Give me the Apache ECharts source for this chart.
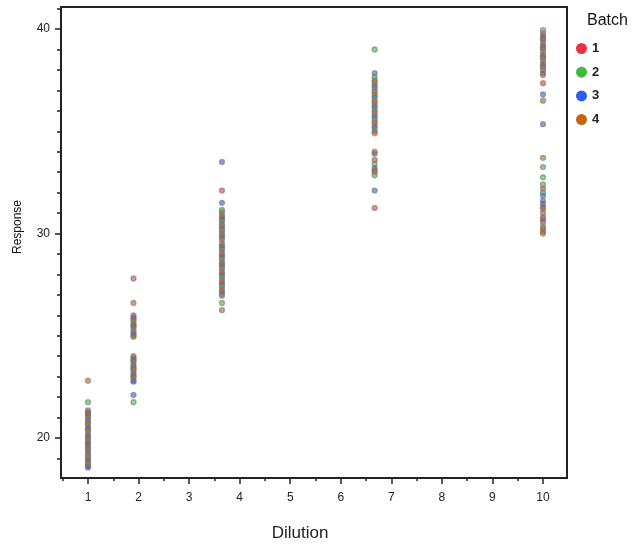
<!DOCTYPE html>
<html>
<head>
<meta charset="utf-8">
<script src="https://cdn.jsdelivr.net/npm/echarts@6/dist/echarts.min.js"></script>
<style>
  html, body { margin: 0; padding: 0; background: #fff; }
  #chart { width: 642px; height: 548px; }
</style>
</head>
<body>
<div id="chart"></div>
<script>
// Dilution levels at which responses were measured (x positions of the columns)
const dilutionLevels = [1, 1.9, 3.65, 6.67, 10];

// Response values per batch, one list per dilution level
const batch1 = [
  [18.6, 19.0, 19.45, 19.8, 20.2, 20.65, 21.05, 21.35],
  [25.2, 25.6, 26.0, 22.8, 23.2, 23.6, 24.0, 27.8],
  [26.95, 27.4, 27.85, 28.3, 28.75, 29.2, 29.7, 30.15, 30.6, 31.05, 32.1],
  [35.0, 35.5, 36.0, 36.5, 37.0, 37.5, 33.0, 33.6, 31.25],
  [38.0, 38.45, 38.9, 39.35, 39.8, 30.1, 30.55, 31.0, 31.45, 32.2, 37.35]
];
const batch2 = [
  [18.7, 19.1, 19.5, 19.9, 20.35, 20.7, 21.1, 21.75],
  [24.95, 25.35, 25.75, 22.95, 23.35, 23.75, 21.75],
  [27.05, 27.5, 27.95, 28.4, 28.85, 29.3, 29.8, 30.25, 30.7, 31.15, 26.6],
  [35.15, 35.65, 36.15, 36.65, 37.15, 37.65, 32.85, 33.4, 39.0],
  [38.15, 38.6, 39.05, 39.5, 39.95, 32.0, 32.4, 32.75, 30.35, 33.25]
];
const batch3 = [
  [18.55, 18.9, 19.3, 19.7, 20.1, 20.5, 20.9, 21.25],
  [25.1, 25.5, 25.9, 22.75, 23.1, 23.5, 23.9, 22.1],
  [27.15, 27.6, 28.05, 28.5, 28.95, 29.4, 29.9, 30.35, 30.8, 31.5, 33.5],
  [35.25, 35.75, 36.25, 36.75, 37.25, 37.85, 33.2, 33.9, 32.1],
  [37.85, 38.3, 38.75, 39.2, 39.65, 31.3, 31.6, 31.85, 30.7, 36.8, 35.35]
];
const batch4 = [
  [18.8, 19.2, 19.6, 20.0, 20.4, 20.8, 21.2, 22.8],
  [25.0, 25.45, 25.8, 23.0, 23.4, 23.8, 26.6],
  [27.25, 27.7, 28.15, 28.6, 29.05, 29.5, 30.0, 30.45, 30.9, 26.25],
  [34.9, 35.4, 35.9, 36.4, 36.9, 37.4, 33.1, 34.0],
  [37.75, 38.2, 38.65, 39.1, 39.55, 30.0, 30.25, 30.8, 31.2, 36.5, 33.7]
];

const batchNames = ['1', '2', '3', '4'];
const batchColors = ['#e8353f', '#3dbb3d', '#2b5ff0', '#c4620e'];

// Axis ticks and labels
const xMajorTicks = [1, 2, 3, 4, 5, 6, 7, 8, 9, 10];
const xMinorTicks = [0.5, 1.5, 2.5, 3.5, 4.5, 5.5, 6.5, 7.5, 8.5, 9.5, 10.5];
const yMajorTicks = [20, 30, 40];
const yMinorTicks = [19, 21, 22, 23, 24, 25, 26, 27, 28, 29, 31, 32, 33, 34, 35, 36, 37, 38, 39, 41];

function toPoints(columns) {
  const pts = [];
  columns.forEach((ys, i) => ys.forEach(y => pts.push([dilutionLevels[i], y])));
  return pts;
}

const batches = [batch1, batch2, batch3, batch4];
const FONT = 'Liberation Sans, Arial, sans-serif';
const X_MIN = 0.466, X_MAX = 10.475, Y_MIN = 18.04, Y_MAX = 41.08;

const chart = echarts.init(document.getElementById('chart'), null, { renderer: 'canvas' });

const axisLineStyle = { color: '#222', width: 2 };

chart.setOption({
  backgroundColor: '#fff',
  animation: false,
  title: {
    text: 'Batch',
    left: 582, top: 8,
    textStyle: { fontFamily: FONT, fontSize: 16, fontWeight: 'normal', color: '#111' }
  },
  legend: {
    data: batchNames,
    orient: 'vertical',
    left: 571, top: 37,
    itemWidth: 11, itemHeight: 11, itemGap: 10.7,
    icon: 'circle',
    itemStyle: { borderWidth: 0, opacity: 1 },
    textStyle: { fontFamily: FONT, fontSize: 13, fontWeight: 'bold', color: '#222' },
    selectedMode: false
  },
  grid: {
    left: 61, top: 7, right: 75, bottom: 70,
    show: true, borderColor: '#222', borderWidth: 2, backgroundColor: 'transparent'
  },
  xAxis: [
    {
      type: 'value', min: X_MIN, max: X_MAX, position: 'bottom',
      axisLine: { show: true, lineStyle: axisLineStyle },
      axisTick: { show: true, customValues: xMajorTicks, length: 6, lineStyle: { color: '#222', width: 1.5 } },
      axisLabel: { customValues: xMajorTicks, margin: 14, fontFamily: FONT, fontSize: 12, color: '#222' },
      splitLine: { show: false }
    },
    {
      type: 'value', min: X_MIN, max: X_MAX, position: 'bottom',
      axisLine: { show: false },
      axisTick: { show: true, customValues: xMinorTicks, length: 3, lineStyle: { color: '#222', width: 1.5 } },
      axisLabel: { show: false },
      splitLine: { show: false }
    }
  ],
  yAxis: [
    {
      type: 'value', min: Y_MIN, max: Y_MAX, position: 'left',
      axisLine: { show: true, lineStyle: axisLineStyle },
      axisTick: { show: true, customValues: yMajorTicks, length: 6, lineStyle: { color: '#222', width: 1.5 } },
      axisLabel: { customValues: yMajorTicks, margin: 11, fontFamily: FONT, fontSize: 12, color: '#222' },
      splitLine: { show: false }
    },
    {
      type: 'value', min: Y_MIN, max: Y_MAX, position: 'left',
      axisLine: { show: false },
      axisTick: { show: true, customValues: yMinorTicks, length: 4, lineStyle: { color: '#222', width: 1.5 } },
      axisLabel: { show: false },
      splitLine: { show: false }
    }
  ],
  graphic: [
    {
      type: 'text', x: 18, y: 227, rotation: Math.PI / 2,
      style: { text: 'Response', fontFamily: FONT, fontSize: 12, fill: '#111', align: 'center', verticalAlign: 'middle' }
    },
    {
      type: 'text', x: 300, y: 533,
      style: { text: 'Dilution', fontFamily: FONT, fontSize: 17, fill: '#222', align: 'center', verticalAlign: 'middle' }
    }
  ],
  series: batches.map((b, i) => ({
    name: batchNames[i],
    type: 'scatter',
    xAxisIndex: 0, yAxisIndex: 0,
    symbol: 'circle',
    symbolSize: 5,
    data: toPoints(b),
    itemStyle: {
      color: batchColors[i],
      opacity: 0.6,
      borderColor: 'rgba(115,115,115,0.95)',
      borderWidth: 1.3
    }
  }))
});
</script>
</body>
</html>
